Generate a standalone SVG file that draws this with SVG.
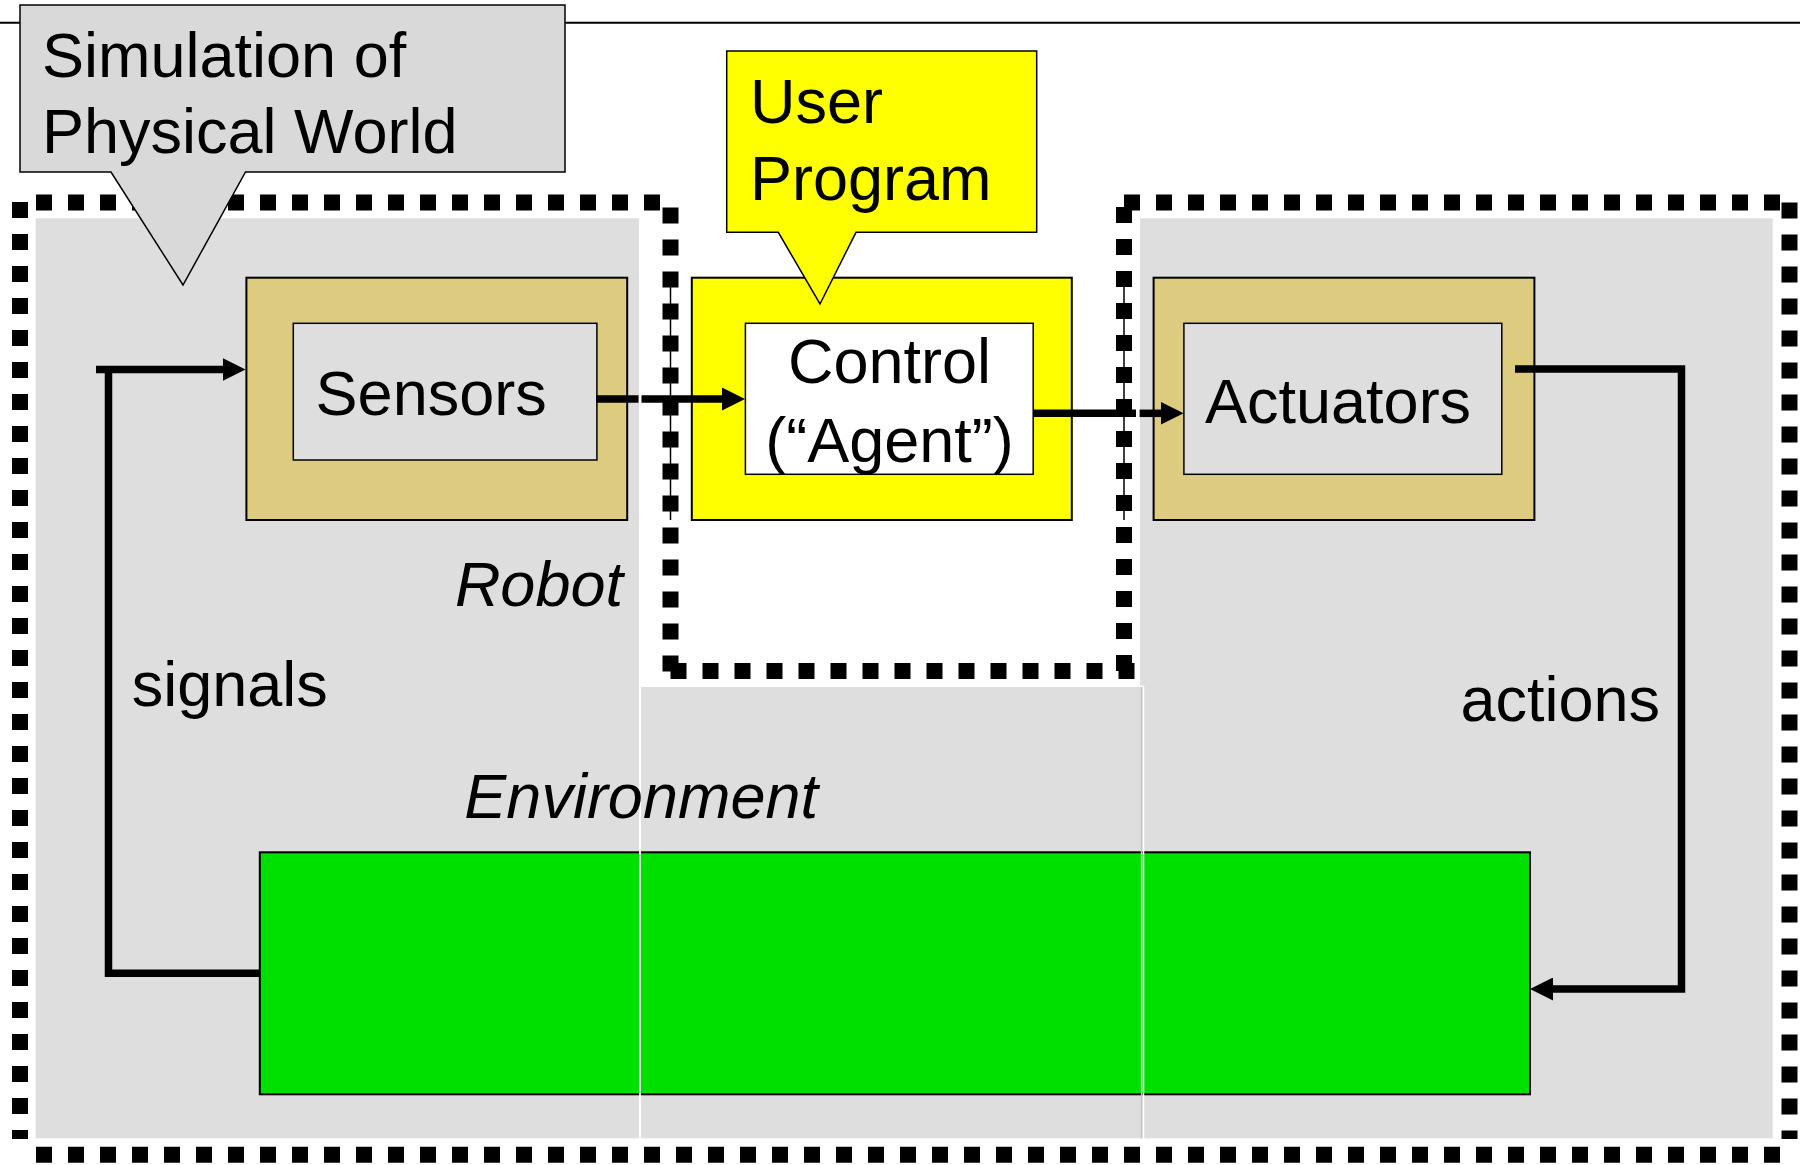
<svg xmlns="http://www.w3.org/2000/svg" width="1800" height="1165" viewBox="0 0 1800 1165">
<style>
  .region { fill: #DEDEDE; stroke: none; }
  .dots { stroke: #000; stroke-width: 16; stroke-dasharray: 16 16; fill: none; }
  .thin { stroke: #000; stroke-width: 1.5; fill: none; }
  .tan { fill: #DDCB80; stroke: #000; stroke-width: 2; }
  .inner { fill: #DEDEDE; stroke: #000; stroke-width: 1.5; }
  .conn { stroke: #000; stroke-width: 7.5; fill: none; }
  .lbl { font-family: "Liberation Sans", Arial, sans-serif; font-size: 63px; fill: #000; }
  .it { font-style: italic; }
</style>
<defs>
  <marker id="ah" viewBox="0 0 23 23" refX="2" refY="11.5" markerWidth="23" markerHeight="23" markerUnits="userSpaceOnUse" orient="auto">
    <path d="M0,0 L23,11.5 L0,23 z" fill="#000"/>
  </marker>
</defs>
<rect width="1800" height="1165" fill="#FFFFFF"/>
<line x1="0" y1="22.7" x2="1800" y2="22.7" stroke="#000" stroke-width="2"/>

<g id="world">
  <rect class="region" x="35.7" y="218.3" width="603.3" height="920"/>
  <rect class="region" x="1140" y="218.3" width="632.7" height="920"/>
  <rect class="region" x="641" y="687" width="500" height="451.3"/>
  <g id="world-border">
    <line class="dots" x1="36" y1="202.5" x2="660" y2="202.5"/>
    <line class="dots" x1="670.5" y1="207.5" x2="670.5" y2="671.5"/>
    <line class="dots" x1="670.5" y1="671" x2="1134.5" y2="671"/>
    <line class="dots" x1="1124" y1="671" x2="1124" y2="207"/>
    <line class="dots" x1="1124" y1="202.5" x2="1780" y2="202.5"/>
    <line class="dots" x1="1789.5" y1="202.5" x2="1789.5" y2="1139"/>
    <line class="dots" x1="36" y1="1154.7" x2="1780" y2="1154.7"/>
    <line class="dots" x1="20" y1="202" x2="20" y2="1139"/>
  </g>
  <line class="thin" x1="670.5" y1="278" x2="670.5" y2="520"/>
  <line class="thin" x1="1124" y1="278" x2="1124" y2="520"/>
</g>

<g id="sensors">
  <rect class="tan" x="246.4" y="277.7" width="380.8" height="242.3"/>
  <rect class="inner" x="293.3" y="323.3" width="303.6" height="136.7"/>
  <text class="lbl" x="315.6" y="415">Sensors</text>
</g>

<g id="control">
  <rect x="691.8" y="277.7" width="380" height="242.3" fill="#FFFF00" stroke="#000" stroke-width="2"/>
  <rect x="745.4" y="323.3" width="287.8" height="151" fill="#FFFFFF" stroke="#000" stroke-width="1.5"/>
  <text class="lbl" x="889.5" y="383" text-anchor="middle">Control</text>
  <text class="lbl" x="889.5" y="461.7" text-anchor="middle">(“Agent”)</text>
</g>

<g id="actuators">
  <rect class="tan" x="1153.6" y="277.7" width="380.8" height="242.3"/>
  <rect class="inner" x="1183.9" y="323.3" width="317.9" height="151"/>
  <text class="lbl" x="1205" y="422.7">Actuators</text>
</g>

<g id="environment">
  <rect x="259.8" y="852.3" width="1270.2" height="242" fill="#00E000" stroke="#000" stroke-width="2"/>
  <line x1="640" y1="686.3" x2="640" y2="1138.3" stroke="#FFFFFF" stroke-width="1.8"/>
  <line x1="640" y1="686.3" x2="1143.5" y2="686.3" stroke="#FFFFFF" stroke-width="1.5"/>
  <line x1="1141.6" y1="687" x2="1141.6" y2="1138.3" stroke="#C4C4C4" stroke-width="1.5"/>
  <line x1="1143.5" y1="686.3" x2="1143.5" y2="1138.3" stroke="#FFFFFF" stroke-width="1.5"/>
</g>

<g id="connectors">
  <path class="conn" d="M96,369.5 H224.5" marker-end="url(#ah)"/>
  <path class="conn" d="M260,973.3 H108.5 V372"/>
  <path class="conn" d="M596,399 H638.5"/>
  <path class="conn" d="M641.5,399 H724" marker-end="url(#ah)"/>
  <path class="conn" d="M1033,413.3 H1136"/>
  <path class="conn" d="M1139.6,413.3 H1162.6" marker-end="url(#ah)"/>
  <path class="conn" d="M1515,369 H1681.5 V989 H1551" marker-end="url(#ah)"/>
</g>

<g id="callout-simulation">
  <path d="M20,5 H565 V172 H245.5 L183,285 L111,172 H20 Z" fill="#D9D9D9" stroke="#000" stroke-width="1.5"/>
  <text class="lbl" x="42" y="77">Simulation of</text>
  <text class="lbl" x="42" y="153">Physical World</text>
</g>

<g id="callout-user-program">
  <path d="M726.7,51 H1036.7 V232.3 H856 L820,304 L778.3,232.3 H726.7 Z" fill="#FFFF00" stroke="#000" stroke-width="1.5"/>
  <text class="lbl" x="750" y="123.3">User</text>
  <text class="lbl" x="750" y="200">Program</text>
</g>

<g id="labels">
  <text class="lbl it" x="623" y="606" text-anchor="end">Robot</text>
  <text class="lbl" x="131.7" y="706">signals</text>
  <text class="lbl" x="1660" y="721" text-anchor="end">actions</text>
  <text class="lbl it" x="818" y="818" text-anchor="end">Environment</text>
</g>
</svg>
